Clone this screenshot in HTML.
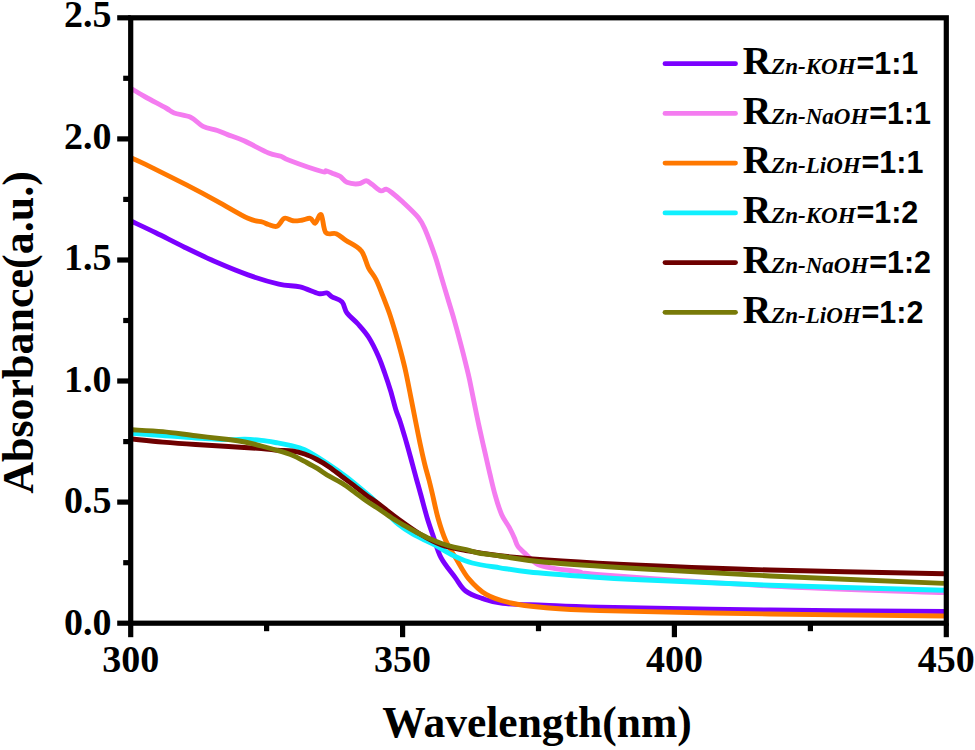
<!DOCTYPE html>
<html><head><meta charset="utf-8"><style>
html,body{margin:0;padding:0;background:#fff;}
body{width:975px;height:750px;overflow:hidden;}
svg{display:block;}
.serif{font-family:"Liberation Serif",serif;font-weight:bold;}
.sans{font-family:"Liberation Sans",sans-serif;font-weight:bold;}
</style></head><body>
<svg width="975" height="750" viewBox="0 0 975 750">
<rect x="0" y="0" width="975" height="750" fill="#fff"/>

<path fill="none" stroke="#7b00ff" stroke-width="4.9" stroke-linejoin="round" stroke-linecap="butt" d="M132.0,221.5 C136.0,223.4 147.1,228.5 155.8,232.8 C164.6,237.1 174.2,242.2 184.5,247.2 C194.8,252.2 206.7,258.0 217.3,262.6 C227.9,267.2 237.8,271.3 248.0,274.9 C258.2,278.5 270.1,282.1 278.8,284.1 C287.5,286.1 293.4,285.3 300.0,286.9 C306.6,288.5 314.2,292.6 318.7,293.6 C323.1,294.6 324.5,292.4 326.7,292.9 C328.9,293.4 329.4,295.3 332.0,296.8 C334.6,298.3 339.5,299.2 342.0,301.9 C344.5,304.6 344.3,309.3 347.0,313.0 C349.7,316.7 354.4,319.9 358.0,324.0 C361.6,328.1 365.4,332.1 368.8,337.5 C372.2,342.9 375.9,350.6 378.5,356.5 C381.1,362.4 382.7,367.3 384.7,373.0 C386.7,378.7 388.6,384.3 390.5,390.5 C392.4,396.7 394.4,405.2 396.0,410.3 C397.6,415.4 398.4,416.0 400.1,421.4 C401.9,426.8 404.4,435.6 406.5,442.7 C408.6,449.8 410.7,457.9 412.4,464.1 C414.1,470.3 415.3,475.0 416.7,480.0 C418.1,485.0 418.9,487.7 420.6,494.0 C422.4,500.3 425.1,511.0 427.2,518.0 C429.3,525.0 430.9,529.4 433.2,536.0 C435.5,542.6 437.4,550.7 441.0,557.6 C444.6,564.5 451.0,571.8 455.1,577.4 C459.2,583.0 461.1,587.5 465.6,591.0 C470.1,594.5 475.8,596.3 482.0,598.4 C488.2,600.5 492.3,602.3 502.6,603.4 C512.9,604.5 527.4,604.6 543.6,605.2 C559.8,605.8 562.3,606.4 600.0,607.2 C637.7,608.0 712.7,609.3 770.0,610.0 C827.3,610.7 915.0,611.2 944.0,611.5"/>
<path fill="none" stroke="#f47cf0" stroke-width="4.9" stroke-linejoin="round" stroke-linecap="butt" d="M132.0,89.0 C134.2,90.3 139.8,93.8 145.5,97.0 C151.2,100.2 161.2,105.3 166.0,108.0 C170.8,110.7 170.1,111.5 174.2,113.0 C178.3,114.5 185.8,115.0 190.6,117.2 C195.4,119.4 198.6,124.2 203.0,126.4 C207.4,128.6 213.2,129.1 217.3,130.5 C221.4,131.9 223.2,132.9 227.6,134.6 C232.0,136.3 237.2,137.7 244.0,140.8 C250.8,143.9 262.5,150.4 268.6,153.0 C274.8,155.6 277.5,155.0 280.9,156.2 C284.3,157.4 282.3,157.8 289.1,160.3 C295.9,162.9 315.7,169.8 321.9,171.5 C328.1,173.2 324.2,170.4 326.2,170.8 C328.2,171.2 331.5,172.9 333.8,173.8 C336.1,174.7 337.8,174.8 340.0,176.2 C342.2,177.6 343.8,181.0 346.9,182.3 C350.0,183.6 355.3,184.1 358.5,183.8 C361.7,183.6 363.9,180.7 366.2,180.8 C368.5,180.9 369.9,182.9 372.3,184.6 C374.7,186.3 378.5,190.0 380.8,190.8 C383.1,191.6 384.3,188.8 386.2,189.2 C388.1,189.6 389.5,190.8 392.3,193.0 C395.1,195.2 398.7,198.2 403.1,202.3 C407.5,206.4 414.8,213.1 418.5,217.7 C422.2,222.3 422.6,223.7 425.3,230.0 C428.0,236.3 432.2,247.8 434.9,255.6 C437.6,263.4 439.2,269.8 441.3,276.9 C443.4,284.0 445.6,291.2 447.7,298.3 C449.8,305.4 452.0,312.1 454.1,319.6 C456.2,327.1 458.5,335.6 460.5,343.1 C462.5,350.6 464.4,358.2 465.9,364.4 C467.4,370.5 468.3,373.9 469.6,380.0 C470.9,386.1 472.3,393.5 473.9,401.3 C475.5,409.1 477.4,418.7 479.2,426.9 C481.0,435.1 482.7,442.6 484.5,450.4 C486.3,458.2 488.1,466.4 489.9,473.9 C491.7,481.4 493.2,488.4 495.2,495.2 C497.1,501.9 499.3,509.1 501.6,514.4 C503.9,519.7 507.0,523.3 509.1,527.2 C511.2,531.1 513.0,534.8 514.4,537.9 C515.8,541.0 515.9,543.4 517.8,546.1 C519.7,548.8 522.7,551.3 526.0,554.3 C529.3,557.3 532.9,561.9 537.5,564.2 C542.1,566.5 547.1,567.1 553.9,568.3 C560.7,569.5 570.3,570.5 578.5,571.6 C586.7,572.7 571.3,572.5 603.2,574.9 C635.1,577.3 713.2,583.0 770.0,586.0 C826.8,589.0 915.0,591.5 944.0,592.6"/>
<path fill="none" stroke="#ff7800" stroke-width="4.9" stroke-linejoin="round" stroke-linecap="butt" d="M132.0,158.2 C134.2,159.2 136.4,159.9 145.5,164.4 C154.6,168.9 174.5,178.8 186.5,184.9 C198.5,191.1 207.1,195.7 217.3,201.3 C227.6,206.9 240.5,214.9 248.0,218.3 C255.5,221.8 258.9,221.0 262.3,222.0 C265.7,223.0 266.1,223.8 268.5,224.5 C270.9,225.2 274.3,227.3 277.0,226.3 C279.7,225.3 281.8,219.2 284.5,218.3 C287.2,217.4 290.1,220.5 293.0,220.8 C295.9,221.1 298.8,220.6 301.7,220.2 C304.6,219.8 308.1,217.8 310.3,218.3 C312.6,218.8 313.4,223.8 315.2,223.2 C317.0,222.6 319.4,213.0 321.1,214.6 C322.9,216.2 323.2,229.3 325.7,232.5 C328.2,235.7 332.8,232.4 336.2,233.7 C339.6,235.0 341.9,237.7 346.0,240.5 C350.1,243.3 357.4,246.1 361.1,250.7 C364.9,255.2 366.0,263.0 368.5,267.8 C371.0,272.6 373.5,274.5 376.0,279.5 C378.5,284.5 381.2,291.8 383.5,297.7 C385.8,303.6 387.9,309.0 389.9,314.7 C391.8,320.4 393.4,325.8 395.2,331.8 C397.0,337.9 398.8,344.2 400.6,351.0 C402.4,357.8 404.2,364.6 405.9,372.4 C407.6,380.2 409.4,389.8 411.0,398.0 C412.6,406.2 414.1,413.9 415.6,421.4 C417.1,428.8 418.4,435.6 419.9,442.7 C421.4,449.8 423.2,457.9 424.7,464.1 C426.2,470.3 427.7,475.0 429.0,480.0 C430.3,485.0 430.9,487.7 432.4,494.0 C433.9,500.3 435.8,510.2 438.0,518.0 C440.2,525.8 442.8,534.0 445.8,540.8 C448.9,547.6 452.5,552.6 456.3,558.9 C460.1,565.2 463.6,572.7 468.6,578.6 C473.6,584.5 479.2,590.3 486.2,594.4 C493.2,598.5 501.2,600.8 510.8,603.0 C520.4,605.2 528.7,606.2 543.6,607.5 C558.5,608.8 562.3,609.5 600.0,610.6 C637.7,611.7 712.7,613.1 770.0,614.0 C827.3,614.9 915.0,615.7 944.0,616.0"/>
<path fill="none" stroke="#10f0ff" stroke-width="4.9" stroke-linejoin="round" stroke-linecap="butt" d="M132.0,433.3 C137.1,433.7 152.2,434.7 162.8,435.5 C173.4,436.3 184.7,437.3 195.6,438.0 C206.5,438.7 220.3,439.4 228.5,439.6 C236.7,439.8 239.4,439.2 244.9,439.3 C250.4,439.4 255.8,439.8 261.3,440.4 C266.8,441.0 272.9,442.1 277.7,442.9 C282.5,443.7 285.5,444.3 290.0,445.4 C294.5,446.5 298.5,446.8 304.6,449.7 C310.7,452.6 319.8,458.4 326.8,463.0 C333.8,467.6 340.0,472.0 346.5,477.0 C353.0,482.0 361.2,489.0 366.0,493.0 C370.8,497.0 369.6,495.8 375.0,501.0 C380.4,506.2 391.5,518.6 398.5,524.5 C405.5,530.4 410.8,532.7 416.9,536.2 C423.0,539.7 429.2,542.1 435.4,545.4 C441.5,548.7 447.6,552.9 453.8,555.8 C460.0,558.7 464.6,561.0 472.3,563.0 C480.0,565.0 490.5,566.3 500.0,567.8 C509.5,569.3 516.2,570.6 529.3,572.0 C542.4,573.4 560.0,574.7 578.5,576.0 C597.0,577.3 608.1,578.3 640.0,579.8 C671.9,581.3 719.3,583.5 770.0,585.2 C820.7,586.9 915.0,589.4 944.0,590.2"/>
<path fill="none" stroke="#6e0000" stroke-width="4.9" stroke-linejoin="round" stroke-linecap="butt" d="M132.0,439.0 C137.1,439.5 152.2,441.2 162.8,442.1 C173.4,443.0 184.7,443.8 195.6,444.5 C206.5,445.2 217.6,445.8 228.5,446.5 C239.4,447.2 253.1,448.0 261.3,448.6 C269.5,449.2 272.5,449.9 277.7,450.3 C282.9,450.7 287.8,450.4 292.3,451.0 C296.8,451.6 300.5,452.6 304.6,454.0 C308.7,455.4 312.8,457.4 316.9,459.5 C321.0,461.6 325.1,464.1 329.2,466.9 C333.3,469.7 337.4,473.1 341.5,476.2 C345.6,479.3 349.7,482.2 353.8,485.4 C357.9,488.6 362.1,492.1 366.2,495.2 C370.3,498.3 373.4,500.0 378.5,503.8 C383.6,507.6 390.0,513.0 396.9,518.0 C403.8,523.0 412.6,529.5 420.0,534.0 C427.4,538.5 433.8,542.2 441.5,545.0 C449.2,547.8 456.2,548.7 466.0,550.5 C475.8,552.3 484.0,554.0 500.0,555.8 C516.0,557.5 538.7,559.4 562.0,561.0 C585.3,562.6 605.3,563.7 640.0,565.2 C674.7,566.7 719.3,568.6 770.0,570.0 C820.7,571.4 915.0,573.2 944.0,573.8"/>
<path fill="none" stroke="#787a08" stroke-width="4.9" stroke-linejoin="round" stroke-linecap="butt" d="M132.0,429.8 C137.1,430.1 152.2,430.6 162.8,431.6 C173.4,432.6 184.7,434.5 195.6,435.8 C206.5,437.1 220.3,438.5 228.5,439.5 C236.7,440.5 239.4,440.9 244.9,442.0 C250.4,443.1 255.8,444.6 261.3,446.0 C266.8,447.4 272.5,449.0 277.7,450.5 C282.9,452.0 287.8,453.4 292.3,455.2 C296.8,457.0 300.5,459.2 304.6,461.4 C308.7,463.6 312.8,465.7 316.9,468.2 C321.0,470.7 325.1,473.8 329.2,476.2 C333.3,478.6 337.4,480.3 341.5,482.9 C345.6,485.4 349.7,488.5 353.8,491.5 C357.9,494.5 362.1,497.9 366.2,500.8 C370.3,503.7 374.1,505.9 378.5,508.8 C382.9,511.7 387.9,515.5 392.3,518.3 C396.7,521.1 400.5,523.3 404.6,525.7 C408.7,528.1 412.8,530.4 416.9,532.5 C421.0,534.6 425.1,536.8 429.2,538.6 C433.3,540.4 437.4,542.1 441.5,543.5 C445.6,544.9 449.7,546.2 453.8,547.2 C457.9,548.2 462.1,548.7 466.2,549.7 C470.3,550.7 472.9,552.0 478.5,553.0 C484.1,554.0 488.8,554.5 500.0,556.0 C511.2,557.5 522.4,560.2 545.7,562.3 C569.0,564.4 602.6,566.5 640.0,568.8 C677.4,571.1 719.3,573.6 770.0,576.0 C820.7,578.4 915.0,582.2 944.0,583.4"/>
<rect x="130.7" y="17.8" width="815.6" height="605.4" fill="none" stroke="#000" stroke-width="5.2"/>
<line x1="130.7" y1="623.2" x2="130.7" y2="637.2" stroke="#000" stroke-width="5.2" stroke-linecap="butt"/>
<line x1="266.6" y1="623.2" x2="266.6" y2="631.2" stroke="#000" stroke-width="5.2" stroke-linecap="butt"/>
<line x1="402.6" y1="623.2" x2="402.6" y2="637.2" stroke="#000" stroke-width="5.2" stroke-linecap="butt"/>
<line x1="538.5" y1="623.2" x2="538.5" y2="631.2" stroke="#000" stroke-width="5.2" stroke-linecap="butt"/>
<line x1="674.4" y1="623.2" x2="674.4" y2="637.2" stroke="#000" stroke-width="5.2" stroke-linecap="butt"/>
<line x1="810.4" y1="623.2" x2="810.4" y2="631.2" stroke="#000" stroke-width="5.2" stroke-linecap="butt"/>
<line x1="946.3" y1="623.2" x2="946.3" y2="637.2" stroke="#000" stroke-width="5.2" stroke-linecap="butt"/>
<line x1="130.7" y1="623.2" x2="117.19999999999999" y2="623.2" stroke="#000" stroke-width="5.2" stroke-linecap="butt"/>
<line x1="130.7" y1="562.7" x2="123.19999999999999" y2="562.7" stroke="#000" stroke-width="5.2" stroke-linecap="butt"/>
<line x1="130.7" y1="502.1" x2="117.19999999999999" y2="502.1" stroke="#000" stroke-width="5.2" stroke-linecap="butt"/>
<line x1="130.7" y1="441.6" x2="123.19999999999999" y2="441.6" stroke="#000" stroke-width="5.2" stroke-linecap="butt"/>
<line x1="130.7" y1="381.0" x2="117.19999999999999" y2="381.0" stroke="#000" stroke-width="5.2" stroke-linecap="butt"/>
<line x1="130.7" y1="320.5" x2="123.19999999999999" y2="320.5" stroke="#000" stroke-width="5.2" stroke-linecap="butt"/>
<line x1="130.7" y1="260.0" x2="117.19999999999999" y2="260.0" stroke="#000" stroke-width="5.2" stroke-linecap="butt"/>
<line x1="130.7" y1="199.4" x2="123.19999999999999" y2="199.4" stroke="#000" stroke-width="5.2" stroke-linecap="butt"/>
<line x1="130.7" y1="138.9" x2="117.19999999999999" y2="138.9" stroke="#000" stroke-width="5.2" stroke-linecap="butt"/>
<line x1="130.7" y1="78.3" x2="123.19999999999999" y2="78.3" stroke="#000" stroke-width="5.2" stroke-linecap="butt"/>
<line x1="130.7" y1="17.8" x2="117.19999999999999" y2="17.8" stroke="#000" stroke-width="5.2" stroke-linecap="butt"/>
<text class="serif" x="111.5" y="634.6" font-size="38" text-anchor="end">0.0</text>
<text class="serif" x="111.5" y="513.2" font-size="38" text-anchor="end">0.5</text>
<text class="serif" x="111.5" y="391.7" font-size="38" text-anchor="end">1.0</text>
<text class="serif" x="111.5" y="270.3" font-size="38" text-anchor="end">1.5</text>
<text class="serif" x="111.5" y="148.9" font-size="38" text-anchor="end">2.0</text>
<text class="serif" x="111.5" y="27.4" font-size="38" text-anchor="end">2.5</text>
<text class="serif" x="130.7" y="671.5" font-size="38" text-anchor="middle">300</text>
<text class="serif" x="402.6" y="671.5" font-size="38" text-anchor="middle">350</text>
<text class="serif" x="674.4" y="671.5" font-size="38" text-anchor="middle">400</text>
<text class="serif" x="946.3" y="671.5" font-size="38" text-anchor="middle">450</text>
<text class="serif" x="537" y="737" font-size="43.5" text-anchor="middle">Wavelength(nm)</text>
<text class="serif" transform="translate(32.7,332.5) rotate(-90)" x="0" y="0" font-size="44" text-anchor="middle">Absorbance(a.u.)</text>
<line x1="665" y1="63.7" x2="735.5" y2="63.7" stroke="#7b00ff" stroke-width="4.8" stroke-linecap="round"/>
<text x="742.7" y="74.0"><tspan class="serif" font-size="39.5">R</tspan><tspan class="serif" font-style="italic" font-size="23">Zn-KOH</tspan><tspan class="sans" font-size="30.5" dx="0.8">=1:1</tspan></text>
<line x1="665" y1="113.4" x2="735.5" y2="113.4" stroke="#f47cf0" stroke-width="4.8" stroke-linecap="round"/>
<text x="742.7" y="123.7"><tspan class="serif" font-size="39.5">R</tspan><tspan class="serif" font-style="italic" font-size="23">Zn-NaOH</tspan><tspan class="sans" font-size="30.5" dx="0.8">=1:1</tspan></text>
<line x1="665" y1="163.1" x2="735.5" y2="163.1" stroke="#ff7800" stroke-width="4.8" stroke-linecap="round"/>
<text x="742.7" y="173.4"><tspan class="serif" font-size="39.5">R</tspan><tspan class="serif" font-style="italic" font-size="23">Zn-LiOH</tspan><tspan class="sans" font-size="30.5" dx="0.8">=1:1</tspan></text>
<line x1="665" y1="212.9" x2="735.5" y2="212.9" stroke="#10f0ff" stroke-width="4.8" stroke-linecap="round"/>
<text x="742.7" y="223.2"><tspan class="serif" font-size="39.5">R</tspan><tspan class="serif" font-style="italic" font-size="23">Zn-KOH</tspan><tspan class="sans" font-size="30.5" dx="0.8">=1:2</tspan></text>
<line x1="665" y1="262.6" x2="735.5" y2="262.6" stroke="#6e0000" stroke-width="4.8" stroke-linecap="round"/>
<text x="742.7" y="272.9"><tspan class="serif" font-size="39.5">R</tspan><tspan class="serif" font-style="italic" font-size="23">Zn-NaOH</tspan><tspan class="sans" font-size="30.5" dx="0.8">=1:2</tspan></text>
<line x1="665" y1="312.3" x2="735.5" y2="312.3" stroke="#787a08" stroke-width="4.8" stroke-linecap="round"/>
<text x="742.7" y="322.6"><tspan class="serif" font-size="39.5">R</tspan><tspan class="serif" font-style="italic" font-size="23">Zn-LiOH</tspan><tspan class="sans" font-size="30.5" dx="0.8">=1:2</tspan></text>
</svg></body></html>
